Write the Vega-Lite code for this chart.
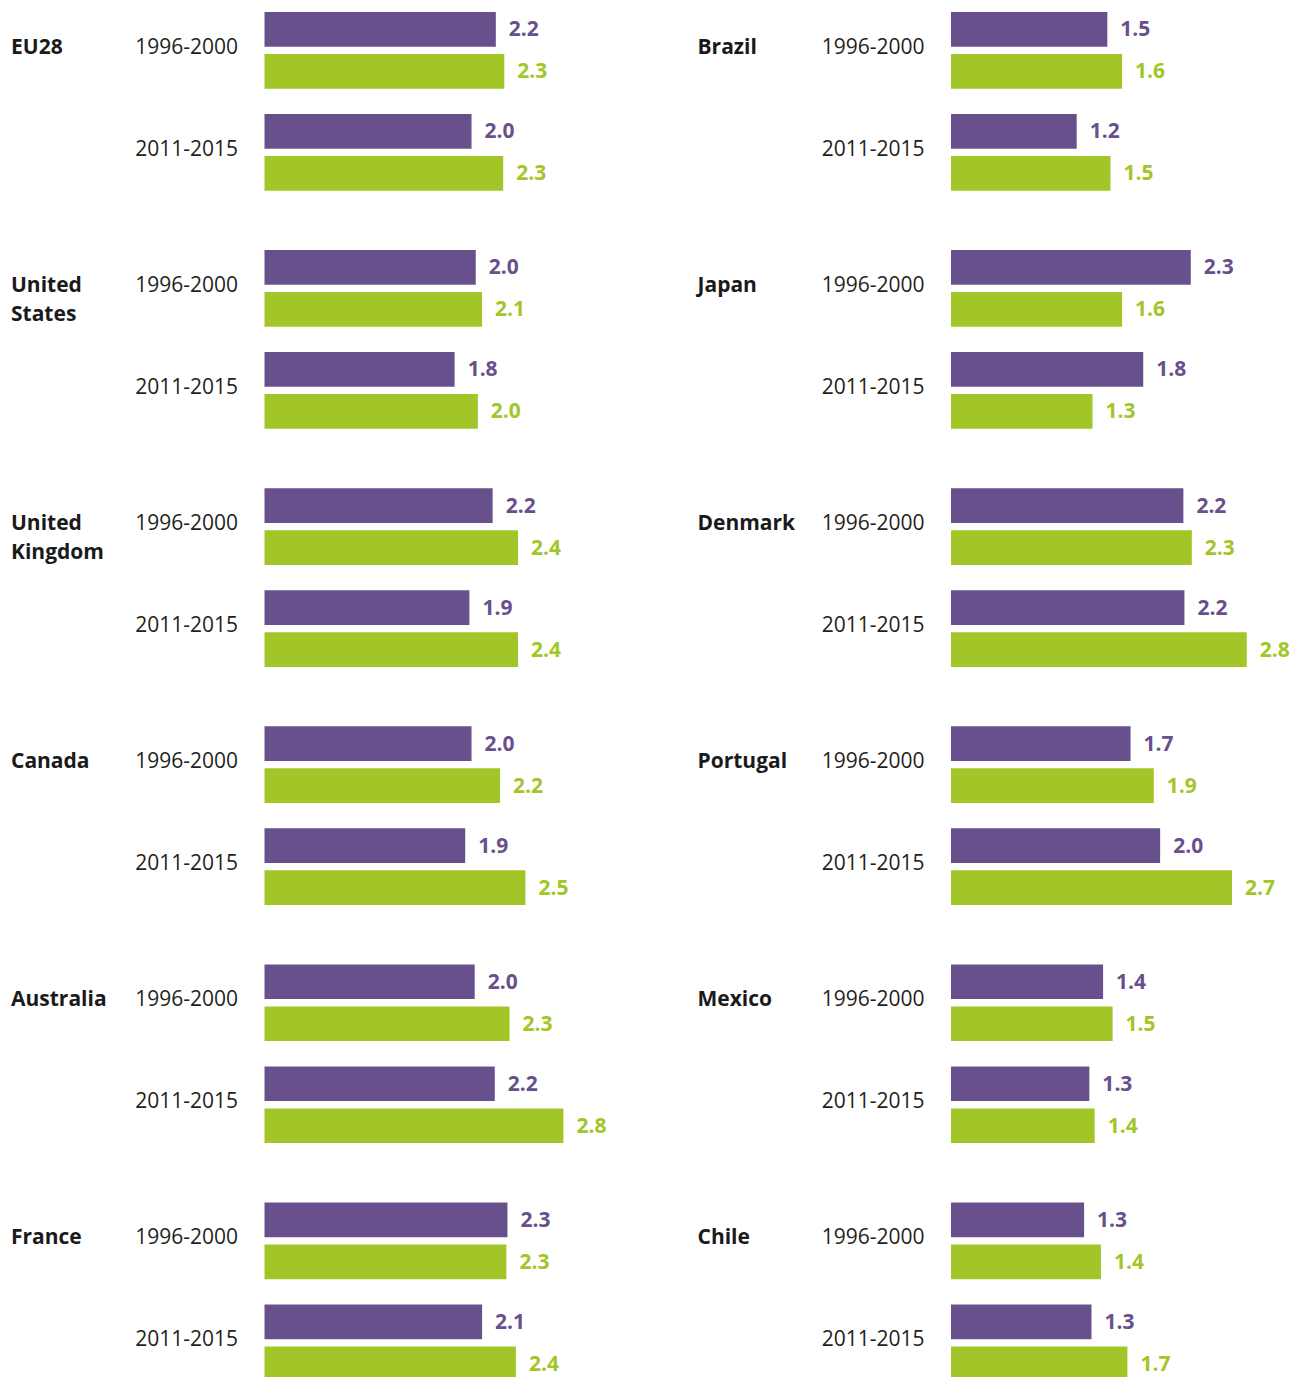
{
  "$schema": "https://vega.github.io/schema/vega-lite/v6.json",
  "padding": {"left": 10.5, "top": 12, "right": 0, "bottom": 0},
  "background": "white",
  "bounds": "flush",
  "columns": 2,
  "spacing": {"row": 59.1, "column": 348.5},
  "data": {"values": [
    {"country": "EU28", "period": "1996-2000", "series": "Series 1", "value": 2.19},
    {"country": "EU28", "period": "1996-2000", "series": "Series 2", "value": 2.27},
    {"country": "EU28", "period": "2011-2015", "series": "Series 1", "value": 1.96},
    {"country": "EU28", "period": "2011-2015", "series": "Series 2", "value": 2.26},
    {"country": "United States", "period": "1996-2000", "series": "Series 1", "value": 2.00},
    {"country": "United States", "period": "1996-2000", "series": "Series 2", "value": 2.06},
    {"country": "United States", "period": "2011-2015", "series": "Series 1", "value": 1.80},
    {"country": "United States", "period": "2011-2015", "series": "Series 2", "value": 2.02},
    {"country": "United Kingdom", "period": "1996-2000", "series": "Series 1", "value": 2.16},
    {"country": "United Kingdom", "period": "1996-2000", "series": "Series 2", "value": 2.40},
    {"country": "United Kingdom", "period": "2011-2015", "series": "Series 1", "value": 1.94},
    {"country": "United Kingdom", "period": "2011-2015", "series": "Series 2", "value": 2.40},
    {"country": "Canada", "period": "1996-2000", "series": "Series 1", "value": 1.96},
    {"country": "Canada", "period": "1996-2000", "series": "Series 2", "value": 2.23},
    {"country": "Canada", "period": "2011-2015", "series": "Series 1", "value": 1.90},
    {"country": "Canada", "period": "2011-2015", "series": "Series 2", "value": 2.47},
    {"country": "Australia", "period": "1996-2000", "series": "Series 1", "value": 1.99},
    {"country": "Australia", "period": "1996-2000", "series": "Series 2", "value": 2.32},
    {"country": "Australia", "period": "2011-2015", "series": "Series 1", "value": 2.18},
    {"country": "Australia", "period": "2011-2015", "series": "Series 2", "value": 2.83},
    {"country": "France", "period": "1996-2000", "series": "Series 1", "value": 2.30},
    {"country": "France", "period": "1996-2000", "series": "Series 2", "value": 2.29},
    {"country": "France", "period": "2011-2015", "series": "Series 1", "value": 2.06},
    {"country": "France", "period": "2011-2015", "series": "Series 2", "value": 2.38},
    {"country": "Brazil", "period": "1996-2000", "series": "Series 1", "value": 1.48},
    {"country": "Brazil", "period": "1996-2000", "series": "Series 2", "value": 1.62},
    {"country": "Brazil", "period": "2011-2015", "series": "Series 1", "value": 1.19},
    {"country": "Brazil", "period": "2011-2015", "series": "Series 2", "value": 1.51},
    {"country": "Japan", "period": "1996-2000", "series": "Series 1", "value": 2.27},
    {"country": "Japan", "period": "1996-2000", "series": "Series 2", "value": 1.62},
    {"country": "Japan", "period": "2011-2015", "series": "Series 1", "value": 1.82},
    {"country": "Japan", "period": "2011-2015", "series": "Series 2", "value": 1.34},
    {"country": "Denmark", "period": "1996-2000", "series": "Series 1", "value": 2.20},
    {"country": "Denmark", "period": "1996-2000", "series": "Series 2", "value": 2.28},
    {"country": "Denmark", "period": "2011-2015", "series": "Series 1", "value": 2.21},
    {"country": "Denmark", "period": "2011-2015", "series": "Series 2", "value": 2.80},
    {"country": "Portugal", "period": "1996-2000", "series": "Series 1", "value": 1.70},
    {"country": "Portugal", "period": "1996-2000", "series": "Series 2", "value": 1.92},
    {"country": "Portugal", "period": "2011-2015", "series": "Series 1", "value": 1.98},
    {"country": "Portugal", "period": "2011-2015", "series": "Series 2", "value": 2.66},
    {"country": "Mexico", "period": "1996-2000", "series": "Series 1", "value": 1.44},
    {"country": "Mexico", "period": "1996-2000", "series": "Series 2", "value": 1.53},
    {"country": "Mexico", "period": "2011-2015", "series": "Series 1", "value": 1.31},
    {"country": "Mexico", "period": "2011-2015", "series": "Series 2", "value": 1.36},
    {"country": "Chile", "period": "1996-2000", "series": "Series 1", "value": 1.26},
    {"country": "Chile", "period": "1996-2000", "series": "Series 2", "value": 1.42},
    {"country": "Chile", "period": "2011-2015", "series": "Series 1", "value": 1.33},
    {"country": "Chile", "period": "2011-2015", "series": "Series 2", "value": 1.67}
  ]},
  "concat": [
    {"transform": [{"filter": {"field": "country", "equal": "EU28"}}], "width": 338, "height": 178.7,
     "encoding": {"y": {"field": "period", "type": "nominal", "sort": ["1996-2000", "2011-2015"], "scale": {"paddingInner": 0.248, "paddingOuter": 0}, "axis": {"title": "EU28"}},
       "yOffset": {"field": "series", "type": "nominal", "sort": ["Series 1", "Series 2"], "scale": {"paddingInner": 0.174, "paddingOuter": 0}},
       "x": {"field": "value", "type": "quantitative", "scale": {"domain": [0, 3.2], "nice": false}, "axis": null},
       "color": {"field": "series", "type": "nominal", "scale": {"domain": ["Series 1", "Series 2"], "range": ["#68508c", "#a2c628"]}, "legend": null}},
     "layer": [{"mark": "bar"}, {"mark": "text", "encoding": {"text": {"field": "value", "type": "quantitative", "format": ".1f"}}}]},
    {"transform": [{"filter": {"field": "country", "equal": "Brazil"}}], "width": 338, "height": 178.7,
     "encoding": {"y": {"field": "period", "type": "nominal", "sort": ["1996-2000", "2011-2015"], "scale": {"paddingInner": 0.248, "paddingOuter": 0}, "axis": {"title": "Brazil"}},
       "yOffset": {"field": "series", "type": "nominal", "sort": ["Series 1", "Series 2"], "scale": {"paddingInner": 0.174, "paddingOuter": 0}},
       "x": {"field": "value", "type": "quantitative", "scale": {"domain": [0, 3.2], "nice": false}, "axis": null},
       "color": {"field": "series", "type": "nominal", "scale": {"domain": ["Series 1", "Series 2"], "range": ["#68508c", "#a2c628"]}, "legend": null}},
     "layer": [{"mark": "bar"}, {"mark": "text", "encoding": {"text": {"field": "value", "type": "quantitative", "format": ".1f"}}}]},
    {"transform": [{"filter": {"field": "country", "equal": "United States"}}], "width": 338, "height": 178.7,
     "encoding": {"y": {"field": "period", "type": "nominal", "sort": ["1996-2000", "2011-2015"], "scale": {"paddingInner": 0.248, "paddingOuter": 0}, "axis": {"title": ["United", "States"]}},
       "yOffset": {"field": "series", "type": "nominal", "sort": ["Series 1", "Series 2"], "scale": {"paddingInner": 0.174, "paddingOuter": 0}},
       "x": {"field": "value", "type": "quantitative", "scale": {"domain": [0, 3.2], "nice": false}, "axis": null},
       "color": {"field": "series", "type": "nominal", "scale": {"domain": ["Series 1", "Series 2"], "range": ["#68508c", "#a2c628"]}, "legend": null}},
     "layer": [{"mark": "bar"}, {"mark": "text", "encoding": {"text": {"field": "value", "type": "quantitative", "format": ".1f"}}}]},
    {"transform": [{"filter": {"field": "country", "equal": "Japan"}}], "width": 338, "height": 178.7,
     "encoding": {"y": {"field": "period", "type": "nominal", "sort": ["1996-2000", "2011-2015"], "scale": {"paddingInner": 0.248, "paddingOuter": 0}, "axis": {"title": "Japan"}},
       "yOffset": {"field": "series", "type": "nominal", "sort": ["Series 1", "Series 2"], "scale": {"paddingInner": 0.174, "paddingOuter": 0}},
       "x": {"field": "value", "type": "quantitative", "scale": {"domain": [0, 3.2], "nice": false}, "axis": null},
       "color": {"field": "series", "type": "nominal", "scale": {"domain": ["Series 1", "Series 2"], "range": ["#68508c", "#a2c628"]}, "legend": null}},
     "layer": [{"mark": "bar"}, {"mark": "text", "encoding": {"text": {"field": "value", "type": "quantitative", "format": ".1f"}}}]},
    {"transform": [{"filter": {"field": "country", "equal": "United Kingdom"}}], "width": 338, "height": 178.7,
     "encoding": {"y": {"field": "period", "type": "nominal", "sort": ["1996-2000", "2011-2015"], "scale": {"paddingInner": 0.248, "paddingOuter": 0}, "axis": {"title": ["United", "Kingdom"]}},
       "yOffset": {"field": "series", "type": "nominal", "sort": ["Series 1", "Series 2"], "scale": {"paddingInner": 0.174, "paddingOuter": 0}},
       "x": {"field": "value", "type": "quantitative", "scale": {"domain": [0, 3.2], "nice": false}, "axis": null},
       "color": {"field": "series", "type": "nominal", "scale": {"domain": ["Series 1", "Series 2"], "range": ["#68508c", "#a2c628"]}, "legend": null}},
     "layer": [{"mark": "bar"}, {"mark": "text", "encoding": {"text": {"field": "value", "type": "quantitative", "format": ".1f"}}}]},
    {"transform": [{"filter": {"field": "country", "equal": "Denmark"}}], "width": 338, "height": 178.7,
     "encoding": {"y": {"field": "period", "type": "nominal", "sort": ["1996-2000", "2011-2015"], "scale": {"paddingInner": 0.248, "paddingOuter": 0}, "axis": {"title": "Denmark"}},
       "yOffset": {"field": "series", "type": "nominal", "sort": ["Series 1", "Series 2"], "scale": {"paddingInner": 0.174, "paddingOuter": 0}},
       "x": {"field": "value", "type": "quantitative", "scale": {"domain": [0, 3.2], "nice": false}, "axis": null},
       "color": {"field": "series", "type": "nominal", "scale": {"domain": ["Series 1", "Series 2"], "range": ["#68508c", "#a2c628"]}, "legend": null}},
     "layer": [{"mark": "bar"}, {"mark": "text", "encoding": {"text": {"field": "value", "type": "quantitative", "format": ".1f"}}}]},
    {"transform": [{"filter": {"field": "country", "equal": "Canada"}}], "width": 338, "height": 178.7,
     "encoding": {"y": {"field": "period", "type": "nominal", "sort": ["1996-2000", "2011-2015"], "scale": {"paddingInner": 0.248, "paddingOuter": 0}, "axis": {"title": "Canada"}},
       "yOffset": {"field": "series", "type": "nominal", "sort": ["Series 1", "Series 2"], "scale": {"paddingInner": 0.174, "paddingOuter": 0}},
       "x": {"field": "value", "type": "quantitative", "scale": {"domain": [0, 3.2], "nice": false}, "axis": null},
       "color": {"field": "series", "type": "nominal", "scale": {"domain": ["Series 1", "Series 2"], "range": ["#68508c", "#a2c628"]}, "legend": null}},
     "layer": [{"mark": "bar"}, {"mark": "text", "encoding": {"text": {"field": "value", "type": "quantitative", "format": ".1f"}}}]},
    {"transform": [{"filter": {"field": "country", "equal": "Portugal"}}], "width": 338, "height": 178.7,
     "encoding": {"y": {"field": "period", "type": "nominal", "sort": ["1996-2000", "2011-2015"], "scale": {"paddingInner": 0.248, "paddingOuter": 0}, "axis": {"title": "Portugal"}},
       "yOffset": {"field": "series", "type": "nominal", "sort": ["Series 1", "Series 2"], "scale": {"paddingInner": 0.174, "paddingOuter": 0}},
       "x": {"field": "value", "type": "quantitative", "scale": {"domain": [0, 3.2], "nice": false}, "axis": null},
       "color": {"field": "series", "type": "nominal", "scale": {"domain": ["Series 1", "Series 2"], "range": ["#68508c", "#a2c628"]}, "legend": null}},
     "layer": [{"mark": "bar"}, {"mark": "text", "encoding": {"text": {"field": "value", "type": "quantitative", "format": ".1f"}}}]},
    {"transform": [{"filter": {"field": "country", "equal": "Australia"}}], "width": 338, "height": 178.7,
     "encoding": {"y": {"field": "period", "type": "nominal", "sort": ["1996-2000", "2011-2015"], "scale": {"paddingInner": 0.248, "paddingOuter": 0}, "axis": {"title": "Australia"}},
       "yOffset": {"field": "series", "type": "nominal", "sort": ["Series 1", "Series 2"], "scale": {"paddingInner": 0.174, "paddingOuter": 0}},
       "x": {"field": "value", "type": "quantitative", "scale": {"domain": [0, 3.2], "nice": false}, "axis": null},
       "color": {"field": "series", "type": "nominal", "scale": {"domain": ["Series 1", "Series 2"], "range": ["#68508c", "#a2c628"]}, "legend": null}},
     "layer": [{"mark": "bar"}, {"mark": "text", "encoding": {"text": {"field": "value", "type": "quantitative", "format": ".1f"}}}]},
    {"transform": [{"filter": {"field": "country", "equal": "Mexico"}}], "width": 338, "height": 178.7,
     "encoding": {"y": {"field": "period", "type": "nominal", "sort": ["1996-2000", "2011-2015"], "scale": {"paddingInner": 0.248, "paddingOuter": 0}, "axis": {"title": "Mexico"}},
       "yOffset": {"field": "series", "type": "nominal", "sort": ["Series 1", "Series 2"], "scale": {"paddingInner": 0.174, "paddingOuter": 0}},
       "x": {"field": "value", "type": "quantitative", "scale": {"domain": [0, 3.2], "nice": false}, "axis": null},
       "color": {"field": "series", "type": "nominal", "scale": {"domain": ["Series 1", "Series 2"], "range": ["#68508c", "#a2c628"]}, "legend": null}},
     "layer": [{"mark": "bar"}, {"mark": "text", "encoding": {"text": {"field": "value", "type": "quantitative", "format": ".1f"}}}]},
    {"transform": [{"filter": {"field": "country", "equal": "France"}}], "width": 338, "height": 178.7,
     "encoding": {"y": {"field": "period", "type": "nominal", "sort": ["1996-2000", "2011-2015"], "scale": {"paddingInner": 0.248, "paddingOuter": 0}, "axis": {"title": "France"}},
       "yOffset": {"field": "series", "type": "nominal", "sort": ["Series 1", "Series 2"], "scale": {"paddingInner": 0.174, "paddingOuter": 0}},
       "x": {"field": "value", "type": "quantitative", "scale": {"domain": [0, 3.2], "nice": false}, "axis": null},
       "color": {"field": "series", "type": "nominal", "scale": {"domain": ["Series 1", "Series 2"], "range": ["#68508c", "#a2c628"]}, "legend": null}},
     "layer": [{"mark": "bar"}, {"mark": "text", "encoding": {"text": {"field": "value", "type": "quantitative", "format": ".1f"}}}]},
    {"transform": [{"filter": {"field": "country", "equal": "Chile"}}], "width": 338, "height": 178.7,
     "encoding": {"y": {"field": "period", "type": "nominal", "sort": ["1996-2000", "2011-2015"], "scale": {"paddingInner": 0.248, "paddingOuter": 0}, "axis": {"title": "Chile"}},
       "yOffset": {"field": "series", "type": "nominal", "sort": ["Series 1", "Series 2"], "scale": {"paddingInner": 0.174, "paddingOuter": 0}},
       "x": {"field": "value", "type": "quantitative", "scale": {"domain": [0, 3.2], "nice": false}, "axis": null},
       "color": {"field": "series", "type": "nominal", "scale": {"domain": ["Series 1", "Series 2"], "range": ["#68508c", "#a2c628"]}, "legend": null}},
     "layer": [{"mark": "bar"}, {"mark": "text", "encoding": {"text": {"field": "value", "type": "quantitative", "format": ".1f"}}}]}
  ],
  "config": {
    "font": "Open Sans",
    "view": {"stroke": null},
    "text": {"align": "left", "baseline": "middle", "dx": 13, "dy": 1, "fontSize": 21, "fontWeight": "bold", "font": "Open Sans"},
    "axisY": {
      "domain": false, "ticks": false, "grid": false,
      "labelFont": "Open Sans", "labelFontSize": 21, "labelColor": "#231f20", "labelPadding": 27,
      "labelBaseline": "alphabetic", "labelOffset": 3.6, "labelLimit": 0,
      "titleAngle": 0, "titleAlign": "left", "titleBaseline": "alphabetic", "titleX": -254, "titleY": 41,
      "titleFont": "Open Sans", "titleFontSize": 21, "titleFontWeight": "bold", "titleColor": "#1a1a1a", "titleLineHeight": 29
    }
  }
}
